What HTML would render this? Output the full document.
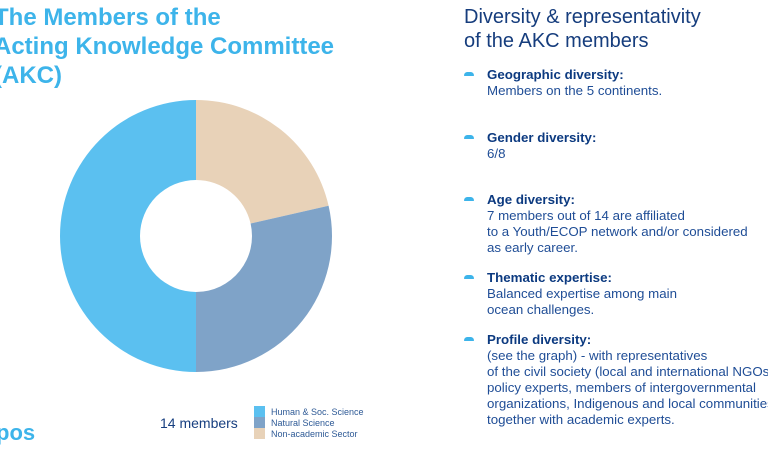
<!DOCTYPE html>
<html><head><meta charset="utf-8"><style>
body{margin:0;width:768px;height:450px;overflow:hidden;background:#fff;font-family:"Liberation Sans",sans-serif;position:relative}
.t{position:absolute;left:-6px;top:3px;color:#3db4ea;font-weight:bold;font-size:24px;line-height:29px}
.rt{position:absolute;left:464px;top:5px;color:#163d7d;font-size:20px;line-height:24px}
.b{position:absolute;left:464px;width:320px;white-space:nowrap;font-size:13.3px;line-height:16px;color:#1f4d96}
.b b{color:#0c3a80}
.b i{position:absolute;left:0;top:5px;width:10px;height:4px;background:#3db4ea;border-radius:5px 5px 1px 1px}
.b div{padding-left:23px}
</style></head><body>
<div class="t">The Members of the<br>Acting Knowledge Committee<br>(AKC)</div>
<svg id="c" width="768" height="450" style="position:absolute;left:0;top:0"></svg>
<div style="position:absolute;left:160px;top:415px;font-size:14px;color:#173f80">14 members</div>
<div style="position:absolute;left:-4px;top:420px;font-size:22px;font-weight:bold;color:#3db4ea">pos</div>
<div class="rt">Diversity &amp; representativity<br>of the AKC members</div>
<div class="b" style="top:67px"><i></i><div><b>Geographic diversity:</b><br>Members on the 5 continents.</div></div>
<div class="b" style="top:130px"><i></i><div><b>Gender diversity:</b><br>6/8</div></div>
<div class="b" style="top:192px"><i></i><div><b>Age diversity:</b><br>7 members out of 14 are affiliated<br>to a Youth/ECOP network and/or considered<br>as early career.</div></div>
<div class="b" style="top:270px"><i></i><div><b>Thematic expertise:</b><br>Balanced expertise among main<br>ocean challenges.</div></div>
<div class="b" style="top:332px"><i></i><div><b>Profile diversity:</b><br>(see the graph) - with representatives<br>of the civil society (local and international NGOs),<br>policy experts, members of intergovernmental<br>organizations, Indigenous and local communities<br>together with academic experts.</div></div>
<script>
const categories=["Human & Soc. Science","Natural Science","Non-academic Sector"];
const values=[7,4,3];
const colors=["#5bc0f0","#7fa3c8","#e8d2b8"];
const order=[2,1,0];
const svg=document.getElementById('c');const NS="http://www.w3.org/2000/svg";
const cx=196,cy=236,R=136,r=56;
const total=values.reduce((a,b)=>a+b,0);
function pt(a,rad){return [cx+rad*Math.sin(a),cy-rad*Math.cos(a)];}
let a0=0;
order.forEach(i=>{
 const a1=a0+values[i]/total*2*Math.PI;
 const [x0,y0]=pt(a0,R),[x1,y1]=pt(a1,R),[x2,y2]=pt(a1,r),[x3,y3]=pt(a0,r);
 const lg=(a1-a0)>Math.PI?1:0;
 const p=document.createElementNS(NS,'path');
 p.setAttribute('d',`M${x0},${y0}A${R},${R} 0 ${lg} 1 ${x1},${y1}L${x2},${y2}A${r},${r} 0 ${lg} 0 ${x3},${y3}Z`);
 p.setAttribute('fill',colors[i]);
 
 
 svg.appendChild(p);a0=a1;
});
categories.forEach((c,i)=>{
 const y=406+i*11;
 const s=document.createElementNS(NS,'rect');
 s.setAttribute('x',254);s.setAttribute('y',y);s.setAttribute('width',11);s.setAttribute('height',11);s.setAttribute('fill',colors[i]);
 
 
 svg.appendChild(s);
 const t=document.createElementNS(NS,'text');
 t.setAttribute('x',271);t.setAttribute('y',y+9);t.setAttribute('font-size','9');t.setAttribute('fill','#2e5a96');
 t.setAttribute('font-family','Liberation Sans, sans-serif');t.textContent=c;
 
 
 svg.appendChild(t);
});
</script>
</body></html>
